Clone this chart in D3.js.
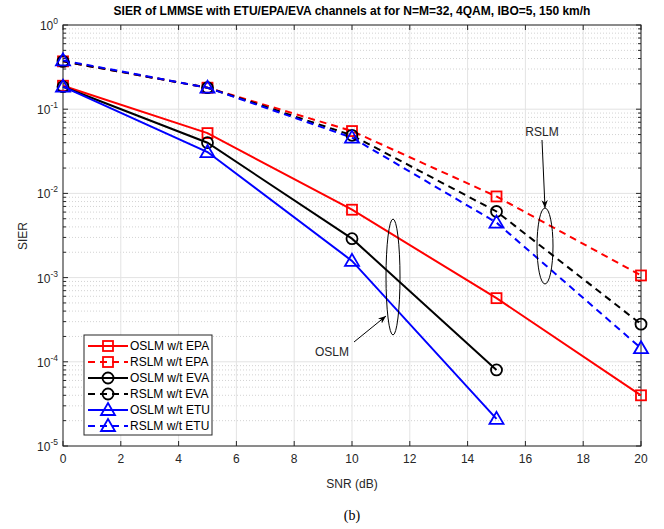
<!DOCTYPE html>
<html>
<head>
<meta charset="utf-8">
<script src="https://cdn.jsdelivr.net/npm/d3@7"></script>
<style>
  body { margin: 0; background: #fff; }
  text { font-family: "Liberation Sans", Arial, sans-serif; }
</style>
</head>
<body>
<script>
// data
var snr = [0, 5, 10, 15, 20];
var oslmEPA = [0.19, 0.052, 0.0064, 0.00057, 0.00004];
var rslmEPA = [0.37, 0.18, 0.055, 0.0092, 0.00106];
var oslmEVA = [0.185, 0.040, 0.0029, 0.00008];
var rslmEVA = [0.37, 0.18, 0.049, 0.0061, 0.00028];
var oslmETU = [0.185, 0.031, 0.00158, 0.000021];
var rslmETU = [0.38, 0.18, 0.046, 0.0045, 0.000145];
var xTicks = [0, 2, 4, 6, 8, 10, 12, 14, 16, 18, 20];
var yExps = [0, -1, -2, -3, -4, -5];

var series = [
  {name: "OSLM w/t EPA", vals: oslmEPA, color: "#ff0000", dash: false, marker: "square"},
  {name: "RSLM w/t EPA", vals: rslmEPA, color: "#ff0000", dash: true, marker: "square"},
  {name: "OSLM w/t EVA", vals: oslmEVA, color: "#000000", dash: false, marker: "circle"},
  {name: "RSLM w/t EVA", vals: rslmEVA, color: "#000000", dash: true, marker: "circle"},
  {name: "OSLM w/t ETU", vals: oslmETU, color: "#0000ff", dash: false, marker: "triangle"},
  {name: "RSLM w/t ETU", vals: rslmETU, color: "#0000ff", dash: true, marker: "triangle"}
];

// plot box (note: "top" is reserved on window, so use pl/pr/pt/pb)
var W = 664, H = 529;
var pl = 63, pr = 641, pt = 25, pb = 446;

var x = d3.scaleLinear().domain([0, 20]).range([pl, pr]);
var y = d3.scaleLog().domain([1e-5, 1]).range([pb, pt]);

var svg = d3.select("body").append("svg")
    .attr("width", W).attr("height", H);

// grid
var grid = svg.append("g");
var minors = [];
for (var e = -5; e < 0; e++) {
  for (var k = 2; k <= 9; k++) minors.push(k * Math.pow(10, e));
}
grid.selectAll(".ymin").data(minors).enter().append("line")
    .attr("x1", pl).attr("x2", pr)
    .attr("y1", function(d) { return y(d); }).attr("y2", function(d) { return y(d); })
    .attr("stroke", "#c8c8c8").attr("stroke-width", 0.8)
    .attr("stroke-dasharray", "1,2");
grid.selectAll(".ymaj").data(yExps).enter().append("line")
    .attr("x1", pl).attr("x2", pr)
    .attr("y1", function(d) { return y(Math.pow(10, d)); })
    .attr("y2", function(d) { return y(Math.pow(10, d)); })
    .attr("stroke", "#e3e3e3").attr("stroke-width", 1);
grid.selectAll(".xmaj").data(xTicks).enter().append("line")
    .attr("y1", pt).attr("y2", pb)
    .attr("x1", function(d) { return x(d); }).attr("x2", function(d) { return x(d); })
    .attr("stroke", "#e3e3e3").attr("stroke-width", 1);

// axes box + ticks
var axc = "#262626";
svg.append("rect").attr("x", pl).attr("y", pt)
    .attr("width", pr - pl).attr("height", pb - pt)
    .attr("fill", "none").attr("stroke", axc).attr("stroke-width", 1);

var tk = svg.append("g").attr("stroke", axc).attr("stroke-width", 1);
xTicks.forEach(function(d) {
  tk.append("line").attr("x1", x(d)).attr("x2", x(d)).attr("y1", pb).attr("y2", pb - 5);
  tk.append("line").attr("x1", x(d)).attr("x2", x(d)).attr("y1", pt).attr("y2", pt + 5);
});
yExps.forEach(function(d) {
  var yy = y(Math.pow(10, d));
  tk.append("line").attr("x1", pl).attr("x2", pl + 5).attr("y1", yy).attr("y2", yy);
  tk.append("line").attr("x1", pr).attr("x2", pr - 5).attr("y1", yy).attr("y2", yy);
});
minors.forEach(function(d) {
  var yy = y(d);
  tk.append("line").attr("x1", pl).attr("x2", pl + 3).attr("y1", yy).attr("y2", yy);
  tk.append("line").attr("x1", pr).attr("x2", pr - 3).attr("y1", yy).attr("y2", yy);
});

// tick labels
svg.selectAll(".xl").data(xTicks).enter().append("text")
    .attr("x", function(d) { return x(d); }).attr("y", pb + 17)
    .attr("text-anchor", "middle").attr("font-size", 12).attr("fill", axc)
    .text(function(d) { return d; });
yExps.forEach(function(d) {
  var t = svg.append("text").attr("x", pl - 5).attr("y", y(Math.pow(10, d)) + 5)
      .attr("text-anchor", "end").attr("font-size", 12).attr("fill", axc);
  t.append("tspan").text("10");
  t.append("tspan").attr("dy", -6).attr("font-size", 8.5).text(d);
});

// labels
svg.append("text").attr("x", 352).attr("y", 15).attr("text-anchor", "middle")
    .attr("font-size", 12).attr("font-weight", "bold").attr("fill", "#000")
    .text("SIER of LMMSE with ETU/EPA/EVA channels at for N=M=32, 4QAM, IBO=5, 150 km/h");
svg.append("text").attr("x", 352).attr("y", 488).attr("text-anchor", "middle")
    .attr("font-size", 12).attr("fill", axc).text("SNR (dB)");
svg.append("text").attr("transform", "translate(27,236) rotate(-90)")
    .attr("text-anchor", "middle").attr("font-size", 12).attr("fill", axc).text("SIER");
svg.append("text").attr("x", 352).attr("y", 520).attr("text-anchor", "middle")
    .attr("font-size", 14).style("font-family", "'Liberation Serif', 'Times New Roman', serif")
    .text("(b)");

// marker drawing
function drawMarker(g, type, cx, cy, color) {
  if (type == "square") {
    g.append("rect").attr("x", cx - 5).attr("y", cy - 5).attr("width", 10).attr("height", 10)
        .attr("fill", "none").attr("stroke", color).attr("stroke-width", 1.8);
  } else if (type == "circle") {
    g.append("circle").attr("cx", cx).attr("cy", cy).attr("r", 5.5)
        .attr("fill", "none").attr("stroke", color).attr("stroke-width", 1.8);
  } else {
    g.append("path")
        .attr("d", "M" + cx + "," + (cy - 7) + "L" + (cx + 7) + "," + (cy + 5) + "L" + (cx - 7) + "," + (cy + 5) + "Z")
        .attr("fill", "none").attr("stroke", color).attr("stroke-width", 1.8);
  }
}

var line = d3.line()
    .x(function(d, i) { return x(snr[i]); })
    .y(function(d) { return y(d); });

var plot = svg.append("g");
series.forEach(function(s) {
  plot.append("path").datum(s.vals)
      .attr("d", line).attr("fill", "none")
      .attr("stroke", s.color).attr("stroke-width", 2)
      .attr("stroke-dasharray", s.dash ? "7,5" : null);
});
series.forEach(function(s) {
  s.vals.forEach(function(v, i) {
    drawMarker(plot, s.marker, x(snr[i]), y(v), s.color);
  });
});

// annotations
var ann = svg.append("g");
var defs = svg.append("defs");
defs.append("marker").attr("id", "arr").attr("viewBox", "0 0 10 10")
    .attr("refX", 10).attr("refY", 5).attr("markerWidth", 8).attr("markerHeight", 8)
    .attr("orient", "auto")
    .append("path").attr("d", "M0,1 L10,5 L0,9 L3,5 Z").attr("fill", "#000");

ann.append("ellipse").attr("cx", 393).attr("cy", 277).attr("rx", 7).attr("ry", 58)
    .attr("fill", "none").attr("stroke", "#000").attr("stroke-width", 1);
ann.append("line").attr("x1", 354).attr("y1", 342).attr("x2", 386).attr("y2", 316)
    .attr("stroke", "#000").attr("stroke-width", 1).attr("marker-end", "url(#arr)");
ann.append("text").attr("x", 332).attr("y", 356).attr("text-anchor", "middle")
    .attr("font-size", 12).attr("fill", axc).text("OSLM");

ann.append("ellipse").attr("cx", 545).attr("cy", 246).attr("rx", 8).attr("ry", 38)
    .attr("fill", "none").attr("stroke", "#000").attr("stroke-width", 1);
ann.append("line").attr("x1", 542).attr("y1", 140).attr("x2", 545).attr("y2", 208)
    .attr("stroke", "#000").attr("stroke-width", 1).attr("marker-end", "url(#arr)");
ann.append("text").attr("x", 542).attr("y", 136).attr("text-anchor", "middle")
    .attr("font-size", 12).attr("fill", axc).text("RSLM");

// legend
var lg = svg.append("g");
lg.append("rect").attr("x", 84).attr("y", 335).attr("width", 128).attr("height", 100)
    .attr("fill", "#fff").attr("stroke", axc).attr("stroke-width", 1);
series.forEach(function(s, i) {
  var ly = 346 + i * 16;
  lg.append("line").attr("x1", 88).attr("x2", 128).attr("y1", ly).attr("y2", ly)
      .attr("stroke", s.color).attr("stroke-width", 2)
      .attr("stroke-dasharray", s.dash ? "7,5" : null);
  drawMarker(lg, s.marker, 108, ly, s.color);
  lg.append("text").attr("x", 130).attr("y", ly + 4).attr("font-size", 12)
      .attr("fill", "#000").text(s.name);
});
</script>
</body>
</html>
